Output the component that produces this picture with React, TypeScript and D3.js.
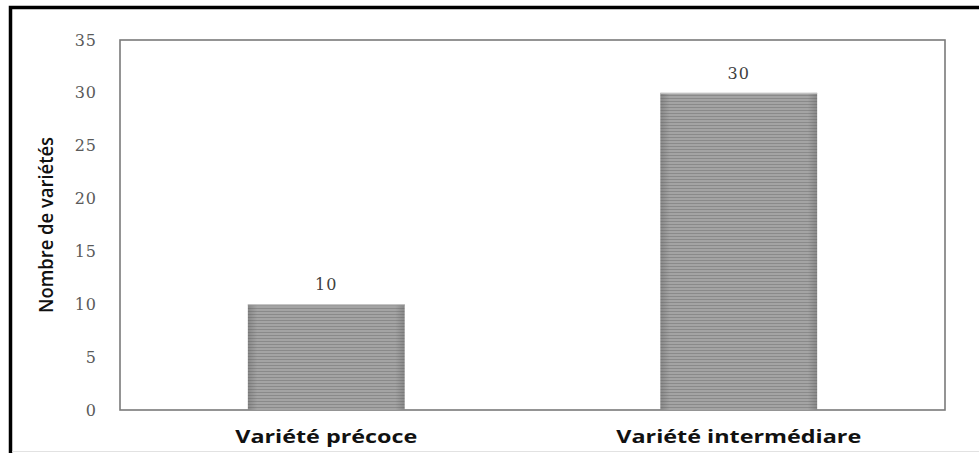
import React from "react";
import * as d3 from "d3";

const categories = ["Variété précoce", "Variété intermédiare"];
const values = [10, 30];
const yTicks = [0, 5, 10, 15, 20, 25, 30, 35];

const W = 979;
const H = 453;
const plot = { left: 120, top: 40, right: 945, bottom: 410 };

export default function App() {
  const x = d3
    .scaleBand<string>()
    .domain(categories)
    .range([plot.left, plot.right])
    .padding(0);
  const y = d3.scaleLinear().domain([0, 35]).range([plot.bottom, plot.top]);
  const barW = x.bandwidth() * 0.38;

  return (
    <svg
      width={W}
      height={H}
      style={{ position: "absolute", left: 0, top: 0, background: "#fff" }}
    >
      <defs>
        <pattern id="stripes" width="6" height="3" patternUnits="userSpaceOnUse">
          <rect width="6" height="3" fill="#a4a4a4" />
          <rect width="6" height="1" y="2" fill="#8a8a8a" />
        </pattern>
        <linearGradient id="edges" x1="0" x2="1" y1="0" y2="0">
          <stop offset="0" stopColor="#555" stopOpacity="0.35" />
          <stop offset="0.06" stopColor="#555" stopOpacity="0" />
          <stop offset="0.94" stopColor="#555" stopOpacity="0" />
          <stop offset="1" stopColor="#555" stopOpacity="0.35" />
        </linearGradient>
      </defs>

      {/* outer frame */}
      <rect x={10.5} y={7.5} width={W + 20} height={H + 20} fill="none" stroke="#000" strokeWidth={3.5} />
      <line x1={12} x2={W} y1={451.5} y2={451.5} stroke="#e2e2e2" strokeWidth={1} />

      {/* plot area frame */}
      <rect
        x={plot.left}
        y={plot.top}
        width={plot.right - plot.left}
        height={plot.bottom - plot.top}
        fill="none"
        stroke="#7a7a7a"
        strokeWidth={1.6}
      />

      {/* y tick labels */}
      {yTicks.map((t) => (
        <text
          key={t}
          x={97}
          y={y(t)}
          dy="0.35em"
          textAnchor="end"
          fontFamily="'DejaVu Serif', serif"
          fontSize={16}
          letterSpacing={1}
          fill="#5a5a5a"
        >
          {t}
        </text>
      ))}

      {/* bars */}
      {categories.map((c, i) => {
        const cx = (x(c) as number) + x.bandwidth() / 2;
        const bx = cx - barW / 2;
        const top = y(values[i]);
        return (
          <g key={c}>
            <rect x={bx} y={top} width={barW} height={plot.bottom - top} fill="url(#stripes)" />
            <rect x={bx} y={top} width={barW} height={plot.bottom - top} fill="url(#edges)" />
            <line x1={bx} x2={bx + barW} y1={top + 0.5} y2={top + 0.5} stroke="#c8c8c8" strokeWidth={1} />
            <text
              x={cx}
              y={top - 14}
              textAnchor="middle"
              fontFamily="'DejaVu Serif', serif"
              fontSize={16}
              letterSpacing={1}
              fill="#404040"
            >
              {values[i]}
            </text>
          </g>
        );
      })}

      {/* x category labels */}
      {categories.map((c, i) => (
        <text
          key={c}
          x={(x(c) as number) + x.bandwidth() / 2}
          y={443}
          textAnchor="middle"
          fontFamily="'Open Sans', sans-serif"
          fontWeight="bold"
          fontSize={18}
          textLength={i === 0 ? 182 : 245}
          lengthAdjust="spacingAndGlyphs"
          fill="#111"
        >
          {c}
        </text>
      ))}

      {/* y axis title */}
      <text
        transform={`translate(53, ${(plot.top + plot.bottom) / 2}) rotate(-90)`}
        textAnchor="middle"
        fontFamily="'Open Sans', sans-serif"
        fontWeight={600}
        fontSize={19}
        textLength={176}
        lengthAdjust="spacingAndGlyphs"
        fill="#111"
      >
        Nombre de variétés
      </text>
    </svg>
  );
}
